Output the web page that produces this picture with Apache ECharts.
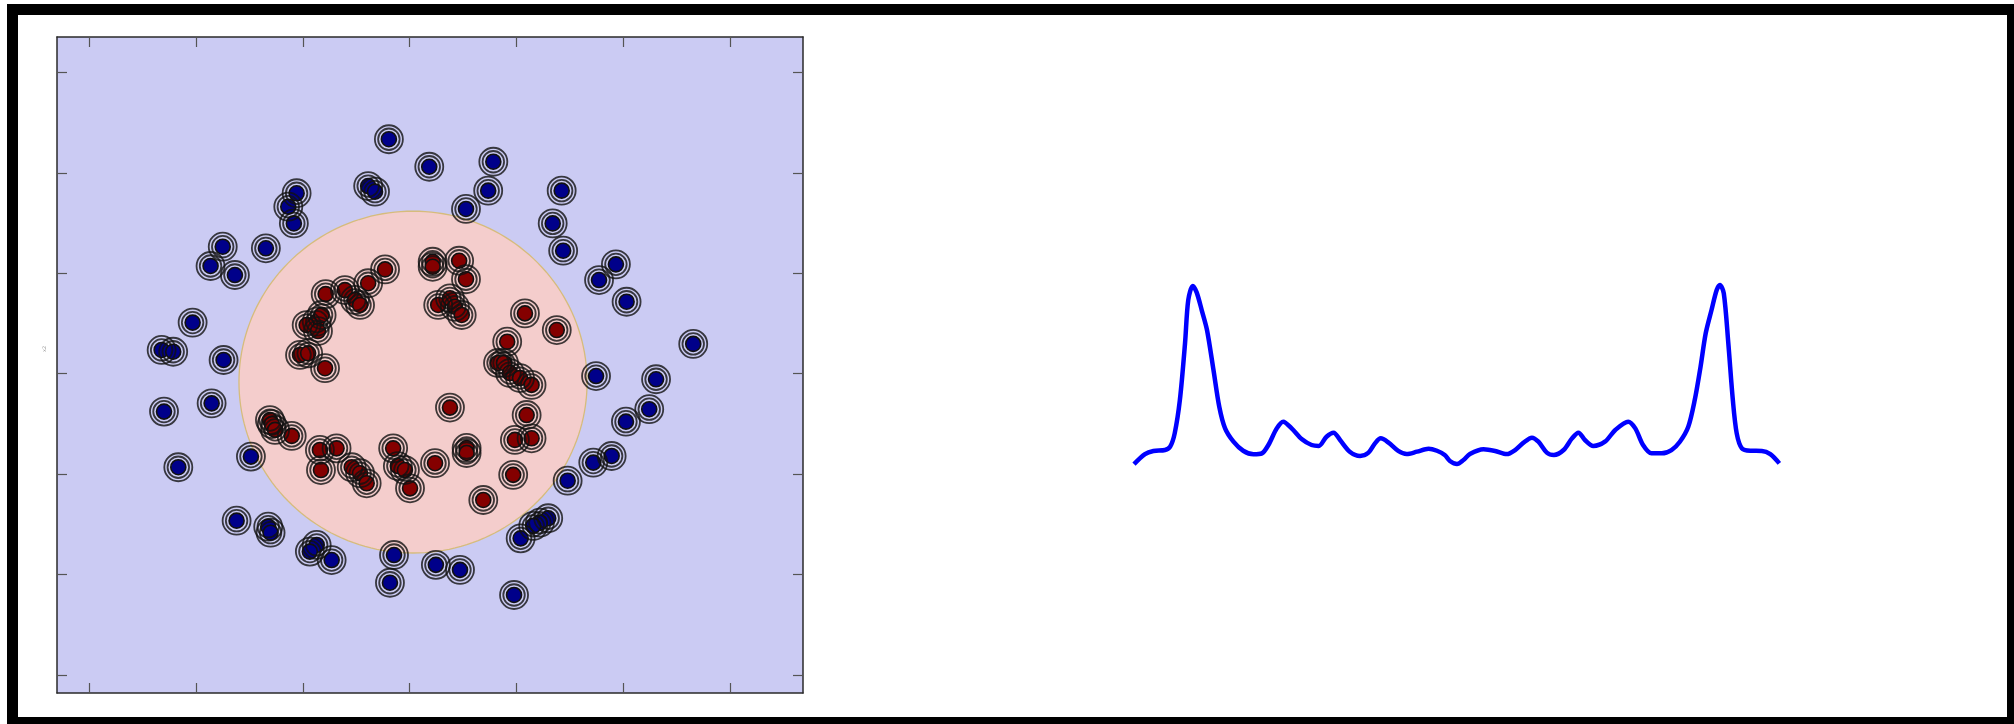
<!DOCTYPE html>
<html>
<head>
<meta charset="utf-8">
<script src="https://cdn.jsdelivr.net/npm/echarts@6/dist/echarts.min.js"></script>
<style>
html,body{margin:0;padding:0;background:#fff;}
#chart{width:2014px;height:724px;}
</style>
</head>
<body>
<div id="chart"></div>
<script>
// ---------- Data ----------
// Left panel: tick values
const xTickValues = [-1.5, -1, -0.5, 0, 0.5, 1, 1.5];
const yTickValues = [-1.5, -1, -0.5, 0, 0.5, 1, 1.5];
const xRange = [-1.651, 1.842];
const yRange = [-1.590, 1.676];

// Outer class (blue) points
const bluePoints = [
  [-0.097, 1.167], [0.092, 1.030], [-0.529, 0.898], [-0.568, 0.831], [-0.542, 0.748],
  [-0.194, 0.934], [-0.162, 0.906], [0.264, 0.820], [-0.875, 0.632], [-0.932, 0.536],
  [-0.818, 0.491], [-0.673, 0.624], [-1.016, 0.254], [-1.161, 0.118], [-1.107, 0.109],
  [-0.871, 0.068], [0.392, 1.055], [0.368, 0.911], [0.712, 0.911], [0.670, 0.748],
  [0.719, 0.612], [0.966, 0.544], [0.887, 0.466], [1.016, 0.358], [1.328, 0.148],
  [0.873, -0.012], [1.154, -0.028], [1.122, -0.177], [1.013, -0.239], [0.946, -0.410],
  [0.860, -0.443], [0.740, -0.533], [0.649, -0.720], [0.610, -0.742], [0.579, -0.758],
  [0.520, -0.820], [0.123, -0.952], [0.236, -0.977], [-0.073, -0.903], [-0.092, -1.041],
  [0.489, -1.102], [-0.435, -0.853], [-0.467, -0.886], [-0.365, -0.928], [-0.662, -0.762],
  [-0.651, -0.792], [-0.810, -0.732], [-0.743, -0.413], [-1.083, -0.466], [-0.927, -0.148],
  [-1.150, -0.189]
];

// Inner class (red) points
const redPoints = [
  [-0.115, 0.519], [0.108, 0.557], [0.108, 0.532], [-0.393, 0.396], [-0.303, 0.416],
  [-0.256, 0.367], [-0.232, 0.342], [-0.194, 0.450], [-0.435, 0.259], [-0.482, 0.242],
  [-0.412, 0.292], [-0.429, 0.212], [-0.513, 0.093], [-0.475, 0.101], [-0.396, 0.027],
  [0.232, 0.562], [0.264, 0.470], [0.134, 0.342], [0.189, 0.375], [0.212, 0.333],
  [0.244, 0.292], [0.540, 0.300], [0.689, 0.217], [0.457, 0.159], [0.414, 0.053],
  [0.442, 0.053], [0.470, 0.003], [0.517, -0.022], [0.571, -0.056], [0.189, -0.169],
  [0.548, -0.206], [0.493, -0.330], [0.571, -0.322], [0.485, -0.504], [0.345, -0.629],
  [0.267, -0.370], [0.267, -0.395], [0.119, -0.446], [-0.077, -0.372], [-0.055, -0.460],
  [-0.022, -0.480], [0.002, -0.571], [-0.654, -0.231], [-0.645, -0.251], [-0.630, -0.280],
  [-0.552, -0.310], [-0.420, -0.380], [-0.342, -0.372], [-0.415, -0.480], [-0.271, -0.466],
  [-0.232, -0.496], [-0.201, -0.546]
];

// Decision boundary (fitted ellipse): center and radii in data units
const boundaryCenter = [0.016, -0.042];
const boundaryRadii = [0.815, 0.851];

// Right panel: curve
const curveX = [
  0, 1.7, 3.0, 4.8, 5.6, 6.3, 7.1, 7.9, 8.4, 9.1, 9.7, 10.5, 11.3, 12.3, 13.2, 14.1, 15.4, 16.9,
  18.5, 19.8, 20.8, 22.1, 23.1, 24.4, 26.0, 27.5, 28.6, 29.8, 30.9, 31.9, 33.4, 35.0, 36.3, 37.3,
  38.2, 39.4, 40.9, 42.2, 43.8, 45.6, 46.9, 48.1, 48.9, 50.0, 51.0, 52.0, 54.1, 55.9, 57.7, 59.0,
  60.3, 61.6, 62.6, 63.9, 65.0, 66.5, 67.8, 68.8, 69.8, 71.1, 72.9, 74.5, 76.5, 77.6, 78.8, 80.1,
  81.7, 83.2, 84.5, 85.8, 86.8, 87.7, 88.5, 89.4, 90.2, 90.7, 91.3, 92.0, 92.7, 93.3, 94.1, 95.4,
  97.2, 98.5, 99.9
];
const curveY = [
  0.032, 0.086, 0.103, 0.108, 0.126, 0.198, 0.378, 0.685, 0.919, 0.995, 0.960, 0.862, 0.757, 0.541,
  0.342, 0.225, 0.153, 0.104, 0.085, 0.090, 0.135, 0.225, 0.261, 0.225, 0.166, 0.135, 0.130, 0.180,
  0.202, 0.162, 0.099, 0.076, 0.094, 0.144, 0.171, 0.148, 0.103, 0.086, 0.099, 0.115, 0.104, 0.081,
  0.049, 0.032, 0.054, 0.086, 0.112, 0.103, 0.086, 0.108, 0.148, 0.175, 0.153, 0.094, 0.081, 0.108,
  0.171, 0.202, 0.162, 0.130, 0.153, 0.216, 0.261, 0.225, 0.135, 0.090, 0.090, 0.108, 0.153, 0.234,
  0.378, 0.558, 0.739, 0.865, 0.973, 1.000, 0.955, 0.685, 0.378, 0.198, 0.117, 0.104, 0.103, 0.086,
  0.036
];

// ---------- Chart ----------
const chart = echarts.init(document.getElementById('chart'), null, {renderer: 'canvas'});

const curveData = curveX.map((x, i) => [x, curveY[i]]);
const allPoints = bluePoints.concat(redPoints);

function tickAxis(pos, range, ticks, gridIndex) {
  return {
    type: 'value', gridIndex: gridIndex, position: pos,
    min: range[0], max: range[1],
    axisLine: {show: true, onZero: false, lineStyle: {color: '#2a2a2a', width: 1.5}},
    axisTick: {show: true, inside: true, length: 10, customValues: ticks,
               lineStyle: {color: '#555', width: 1.2}},
    axisLabel: {show: false},
    splitLine: {show: false}
  };
}

const ringStyle = {color: 'rgba(0,0,0,0)', borderColor: '#111', borderWidth: 1.8};

const option = {
  animation: false,
  grid: [
    {left: 57, top: 37, right: 1211, bottom: 31, show: true,
     backgroundColor: '#CBCBF3', borderWidth: 0},
    {left: 1134, top: 285, width: 646, height: 185, show: false}
  ],
  xAxis: [
    tickAxis('bottom', xRange, xTickValues, 0),
    tickAxis('top', xRange, xTickValues, 0),
    {type: 'value', gridIndex: 1, min: 0, max: 100, show: false}
  ],
  yAxis: [
    tickAxis('left', yRange, yTickValues, 0),
    tickAxis('right', yRange, yTickValues, 0),
    {type: 'value', gridIndex: 1, min: 0, max: 1, show: false}
  ],
  graphic: [
    {type: 'rect', shape: {x: 12.5, y: 9.5, width: 2000, height: 713},
     style: {fill: null, stroke: '#000', lineWidth: 11}, z: 100},
    {type: 'text', x: 42, y: 352, rotation: Math.PI / 2,
     style: {text: 'x2', fontSize: 5, fill: '#999', fontFamily: 'DejaVu Sans'}}
  ],
  series: [
    {
      type: 'custom', xAxisIndex: 0, yAxisIndex: 0, z: 1, silent: true,
      data: [[boundaryCenter[0], boundaryCenter[1], boundaryRadii[0], boundaryRadii[1]]],
      renderItem: function (params, api) {
        const cx = api.value(0), cy = api.value(1), rx = api.value(2), ry = api.value(3);
        const pts = [];
        for (let k = 0; k < 180; k++) {
          const a = k / 180 * Math.PI * 2;
          pts.push(api.coord([cx + rx * Math.cos(a), cy + ry * Math.sin(a)]));
        }
        return {
          type: 'polygon', shape: {points: pts},
          style: {fill: '#F4CDCC', stroke: '#D6BC7C', lineWidth: 1.3}
        };
      }
    },
    {
      type: 'scatter', xAxisIndex: 0, yAxisIndex: 0, z: 3, silent: true,
      symbol: 'circle', symbolSize: 15, data: bluePoints,
      itemStyle: {color: '#00008A', borderColor: '#111', borderWidth: 1.6, opacity: 1}
    },
    {
      type: 'scatter', xAxisIndex: 0, yAxisIndex: 0, z: 3, silent: true,
      symbol: 'circle', symbolSize: 15, data: redPoints,
      itemStyle: {color: '#840000', borderColor: '#111', borderWidth: 1.6, opacity: 1}
    },
    {
      type: 'scatter', xAxisIndex: 0, yAxisIndex: 0, z: 4, silent: true,
      symbol: 'circle', symbolSize: 21.5, data: allPoints, itemStyle: ringStyle
    },
    {
      type: 'scatter', xAxisIndex: 0, yAxisIndex: 0, z: 4, silent: true,
      symbol: 'circle', symbolSize: 28, data: allPoints, itemStyle: ringStyle
    },
    {
      type: 'line', xAxisIndex: 2, yAxisIndex: 2, data: curveData,
      showSymbol: false, smooth: 0.3, clip: false, silent: true,
      lineStyle: {color: '#0000FF', width: 4.5}
    }
  ]
};
chart.setOption(option);
</script>
</body>
</html>
